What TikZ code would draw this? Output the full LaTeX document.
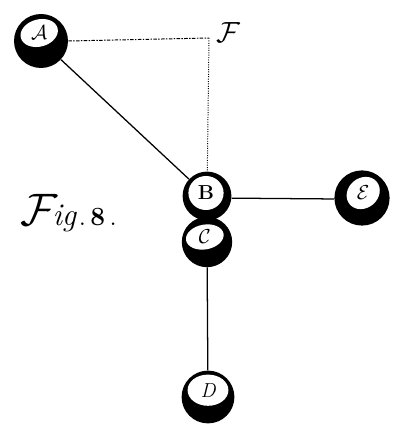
\documentclass[tikz,border=0pt]{standalone}
\usetikzlibrary{shapes.geometric}
\tikzset{
  ball/.style={circle,fill=black,inner sep=0pt,minimum size=#1},
  glint/.style={ellipse,fill=white,inner sep=0pt,font=\Large},
  rod/.style={line width=0.9pt},
  trace/.style={line width=0.7pt,densely dotted}
}
\begin{document}
\begin{tikzpicture}
  \useasboundingbox (0,0) rectangle (10,10.675);
  \foreach \name/\x/\y/\size in {A/1.025/9.65/1.35,B/5.175/5.775/1.22,C/5.175/4.625/1.26,D/5.2/0.75/1.32,E/9.05/5.725/1.38} {
      \node[ball=\size cm] (\name) at (\x,\y) {};
  };
  \node[glint,minimum width=0.95cm,minimum height=0.68cm,rotate=15] (glintA) at (0.98,9.85) {\rotatebox{-15}{$\mathcal{A}$}};
  \node[glint,minimum width=0.88cm,minimum height=0.85cm] (glintB) at (5.15,5.85) {\bfseries B};
  \node[glint,minimum width=0.95cm,minimum height=0.62cm,rotate=10] (glintC) at (5.12,4.75) {\rotatebox{-10}{$\mathcal{C}$}};
  \node[glint,minimum width=1.02cm,minimum height=0.78cm] (glintD) at (5.2,0.92) {\itshape D};
  \node[glint,minimum width=0.88cm,minimum height=0.75cm,rotate=40] (glintE) at (9.08,5.85) {\rotatebox{-40}{$\mathcal{E}$}};
  \coordinate (corner) at (5.225,9.725);
  \node (labelF) at (5.72,9.85) {\huge $\mathcal{F}$};
  \node[inner sep=0pt,scale=1.3] (caption) at (1.72,5.35) {\Huge $\mathcal{F}$\hspace{-3pt}\textit{\LARGE ig}\hspace{1pt}{\Large .\,\textbf{8}\,.}};
  \draw[rod] (A) -- (B);
  \draw[rod] (B.-5) -- (E.182);
  \draw[rod] (C) -- (D);
  \draw[trace,dash pattern=on 2.5pt off 1pt on 1pt off 1pt] (A.east) -- (corner);
  \draw[trace] (corner) -- (B);
\end{tikzpicture}
\end{document}
